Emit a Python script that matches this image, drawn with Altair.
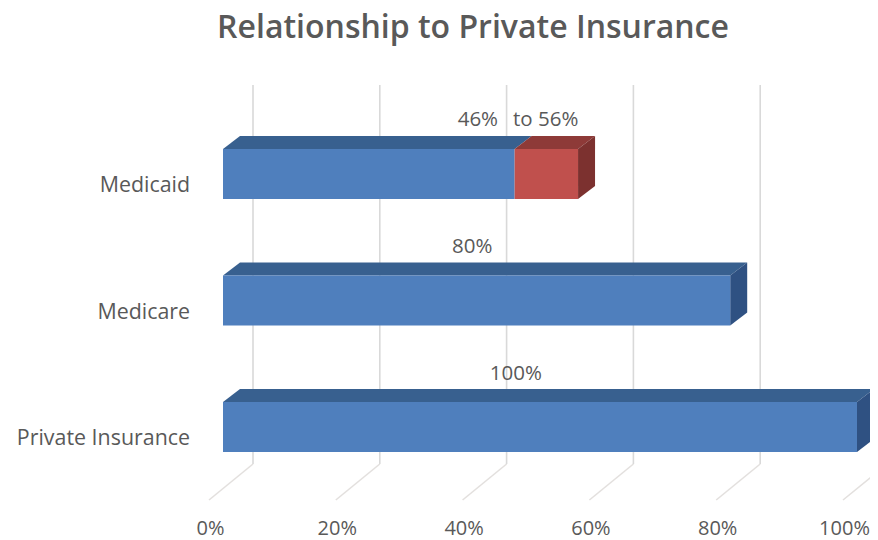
import altair as alt
import pandas as pd

# --- values ---
categories = ["Private Insurance", "Medicare", "Medicaid"]
base_values = [100, 80, 46]
extra_values = [0, 0, 10]
gridlines = [0, 20, 40, 60, 80, 100]
title_text = "Relationship to Private Insurance"

# --- layout (data units: x in percent, y in category rows) ---
PX_X = 6.34          # px per percent
PX_Y = 126.5         # px per row
W, H = 862, 505
X_DOMAIN = [(8 - 223) / PX_X, (8 + W - 223) / PX_X]
Y_DOMAIN = [(427 - (8 + H)) / PX_Y, (427 - 8) / PX_Y]
DX, DY = 17 / PX_X, 13 / PX_Y
HALF = 25 / PX_Y
WALL_X, WALL_Y0, WALL_Y1 = 30 / PX_X, (427 - 464) / PX_Y, (427 - 85) / PX_Y
FLOOR_X, FLOOR_Y = -14 / PX_X, (427 - 500) / PX_Y

BLUE = ("#4f7fbd", "#38608f", "#2f5182")
RED = ("#c0504d", "#8e3a38", "#7c312f")

fronts, tops, sides = [], [], []
for row, (base, extra) in enumerate(zip(base_values, extra_values)):
    segs = [(0, base, BLUE)]
    if extra:
        segs.append((base, base + extra, RED))
    for i, (a, b, col) in enumerate(segs):
        yt, yb = row + HALF, row - HALF
        fronts.append(dict(a=a, b=b, y0=yb, y1=yt, c=col[0]))
        k = f"{row}-{i}"
        for x, y, y2 in [(a, yt, yt), (a + DX, yt + DY, yt), (b, yt + DY, yt), (b + DX, yt + DY, yt + DY)]:
            tops.append(dict(x=x, y=y, y2=y2, c=col[1], k=k))
    end = segs[-1]
    for x, y, y2 in [(end[1], row + HALF, row - HALF), (end[1] + DX, row + HALF + DY, row - HALF + DY)]:
        sides.append(dict(x=x, y=y, y2=y2, c=end[2][2], k=str(row)))

x_scale = alt.Scale(domain=X_DOMAIN, nice=False, zero=False)
y_scale = alt.Scale(domain=Y_DOMAIN, nice=False, zero=False)
x_axis = alt.Axis(values=gridlines, labelExpr="datum.value + '%'", grid=False, domain=False,
                  ticks=False, labelFontSize=20, labelFont="Open Sans", labelColor="#595959",
                  labelOffset=-13, labelPadding=5, labelBound=False, labelFlush=False, title=None)
x_enc = alt.X("x:Q", scale=x_scale, axis=x_axis)
y_enc = alt.Y("y:Q", scale=y_scale, axis=None, stack=None)

wall = pd.DataFrame([dict(x=g + WALL_X, x2=g + WALL_X, y=WALL_Y0, y2=WALL_Y1) for g in gridlines])
floor = pd.DataFrame([dict(x=g + FLOOR_X, x2=g + WALL_X, y=FLOOR_Y, y2=WALL_Y0) for g in gridlines])

wall_l = alt.Chart(wall).mark_rule(color="#d9d9d9", strokeWidth=1.6, clip=True).encode(
    x=x_enc, x2="x2:Q", y=y_enc, y2="y2:Q")
floor_l = alt.Chart(floor).mark_rule(color="#e3e0de", strokeWidth=1.6, clip=True).encode(
    x=x_enc, x2="x2:Q", y=y_enc, y2="y2:Q")

front_l = alt.Chart(pd.DataFrame(fronts)).mark_rect().encode(
    x=alt.X("a:Q", scale=x_scale, axis=x_axis), x2="b:Q",
    y=alt.Y("y0:Q", scale=y_scale, axis=None), y2="y1:Q",
    color=alt.Color("c:N", scale=None))
top_l = alt.Chart(pd.DataFrame(tops)).mark_area(orient="vertical", clip=True).encode(
    x=x_enc, y=y_enc, y2="y2:Q", color=alt.Color("c:N", scale=None), detail="k:N")
side_l = alt.Chart(pd.DataFrame(sides)).mark_area(orient="vertical", clip=True).encode(
    x=x_enc, y=y_enc, y2="y2:Q", color=alt.Color("c:N", scale=None), detail="k:N")

cat_df = pd.DataFrame(dict(t=categories, x=[-5.2] * 3, y=[-0.095, 0.905, 1.905]))
cat_l = alt.Chart(cat_df).mark_text(align="right", baseline="middle", font="Open Sans", fontSize=21.4,
                                    color="#595959").encode(x=x_enc, y=y_enc, text="t:N")

val_df = pd.DataFrame(dict(
    t=["100%", "80%", "46%", "to 56%"],
    x=[46.2, 39.3, 40.2, 50.9],
    y=[0.42, 1.42, 2.43, 2.43]))
val_l = alt.Chart(val_df).mark_text(align="center", baseline="middle", font="Open Sans", fontSize=20.5,
                                    color="#595959").encode(x=x_enc, y=y_enc, text="t:N")

chart = alt.layer(wall_l, floor_l, top_l, side_l, front_l, cat_l, val_l).properties(
    width=W, height=H,
    title=alt.TitleParams(title_text, font="Open Sans", fontSize=32, fontWeight=600, color="#595959",
                          anchor="middle", dx=34, dy=37, offset=0),
    autosize=alt.AutoSizeParams(type="none"),
    padding={"left": 0, "right": 0, "top": 0, "bottom": 27},
    background="white",
).configure_view(stroke=None)

chart.save("out.html", embed_options={"renderer": "svg", "actions": False})
